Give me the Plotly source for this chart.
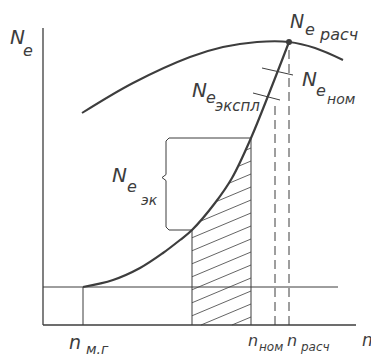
import numpy as np
import plotly.graph_objects as go

# ---------------- data (schematic units) ----------------
# upper (full-load) power curve
n_upper = [39, 90, 147, 180, 214, 246, 272, 300]
Ne_upper = [212, 242, 268, 278, 283, 283, 277, 265]
# operating power curve
n_main = [40, 70, 97, 120, 137, 149, 172, 189, 208, 227, 246]
Ne_main = [38, 45, 57, 72, 85, 95, 122, 147, 187, 234, 283]

# characteristic speeds
n_mg = 40        # idle speed n_м.г
n_a = 149        # start of economical zone
n_ekspl = 208    # end of economical zone
n_nom = 232      # n_ном
n_rasch = 246    # n_расч
n_axis_end = 313
n_idle_end = 295

Ne_idle = 38
Ne_axis_top = 297
Ne_rasch = 283
Ne_nom_dash_top = 222

# leader ticks for labels
tick_nom_n = [219, 250]
tick_nom_Ne = [257, 250]
tick_ekspl_n = [210, 237]
tick_ekspl_Ne = [232, 225]

INK = '#3d3d3d'
FONT = "Liberation Sans Narrow, DejaVu Sans, sans-serif"

# page body has an 8px margin -> figure is laid out 8px up/left of the window
OFF = 8
W, H = 379 - OFF, 364 - OFF
X0, Y0 = 43, 325          # window pixel of the axes origin

fig = go.Figure()


def line(x, y, w=1.2, dash=None, shape='linear'):
    fig.add_trace(go.Scatter(x=x, y=y, mode='lines',
                             line=dict(color=INK, width=w, dash=dash, shape=shape),
                             hoverinfo='skip', showlegend=False, cliponaxis=False))


def curve(x):
    return np.interp(x, n_main, Ne_main)


# axes
line([0, 0], [0, Ne_axis_top], 1.3)
line([0, n_axis_end], [0, 0], 1.3)
# idle level and idle speed
line([0, n_idle_end], [Ne_idle, Ne_idle], 1.0)
line([n_mg, n_mg], [0, Ne_idle], 1.0)

# hatch
k = 0.42
step = 13.0
c0 = 8 - k * (n_ekspl - n_a)
xs = np.linspace(n_a, n_ekspl, 600)
hx, hy = [], []
c = c0
while c < curve(n_ekspl):
    ys = c + k * (xs - n_a)
    m = (ys >= 0) & (ys <= curve(xs))
    if m.sum() > 2:
        idx = np.where(m)[0]
        hx += [xs[idx[0]], xs[idx[-1]], None]
        hy += [ys[idx[0]], ys[idx[-1]], None]
    c += step
line(hx, hy, 0.8)

# zone borders
Ne_lo = float(curve(n_a))
Ne_hi = float(curve(n_ekspl))
line([n_a, n_a], [0, Ne_lo], 1.0)
line([n_ekspl, n_ekspl], [0, Ne_hi], 1.0)

# dashed verticals
line([n_nom, n_nom], [0, Ne_nom_dash_top], 1.0, dash='9px,5px')
line([n_rasch, n_rasch], [0, Ne_rasch], 1.0, dash='9px,5px')

# brace
bx = n_a - 26
mid = Ne_lo + 0.57 * (Ne_hi - Ne_lo)
line([n_ekspl, bx + 3, bx, bx, bx - 4, bx, bx, bx + 3, n_a],
     [Ne_hi, Ne_hi, Ne_hi - 3, mid + 3, mid, mid - 3, Ne_lo + 3, Ne_lo, Ne_lo], 1.0)

# curves
line(n_upper, Ne_upper, 2.0, shape='spline')
line(n_main, Ne_main, 2.2, shape='spline')

# leader ticks
line(tick_nom_n, tick_nom_Ne, 1.0)
line(tick_ekspl_n, tick_ekspl_Ne, 1.0)

# design point
fig.add_trace(go.Scatter(x=[n_rasch], y=[Ne_rasch], mode='markers',
                         marker=dict(color=INK, size=6), hoverinfo='skip', showlegend=False))


def txt(s, px, py, size):
    # px, py: label centre in window pixels
    fig.add_annotation(x=px - X0, y=Y0 - py, xref='x', yref='y', text='<i>' + s + '</i>',
                       showarrow=False, font=dict(family=FONT, size=size, color=INK),
                       xanchor='center', yanchor='middle')


txt('N', 17, 37, 20); txt('e', 28, 50, 16)
txt('N', 297, 21, 19); txt('e', 310, 29, 16); txt('расч', 338, 34, 16)
txt('N', 309, 79, 20); txt('e', 321, 90, 16); txt('ном', 341, 99, 14)
txt('N', 199, 90, 20); txt('e', 211, 97, 16); txt('экспл', 237, 106, 15)
txt('N', 119, 175, 20); txt('e', 132, 186, 16); txt('эк', 149, 200, 14)
txt('n', 75, 342, 19); txt('м.г', 97, 349, 14)
txt('n', 253, 340, 16); txt('ном', 271, 347, 12)
txt('n', 292, 340, 16); txt('расч', 315, 347, 12)
txt('n', 367, 340, 17)

fig.update_layout(
    width=W, height=H, margin=dict(l=0, r=0, t=0, b=0),
    paper_bgcolor='white', plot_bgcolor='white',
    xaxis=dict(range=[OFF - X0, OFF - X0 + W], visible=False, fixedrange=True),
    yaxis=dict(range=[Y0 - 364, Y0 - OFF], visible=False, fixedrange=True),
    showlegend=False,
)
fig.write_html("out.html", config={'displayModeBar': False})
